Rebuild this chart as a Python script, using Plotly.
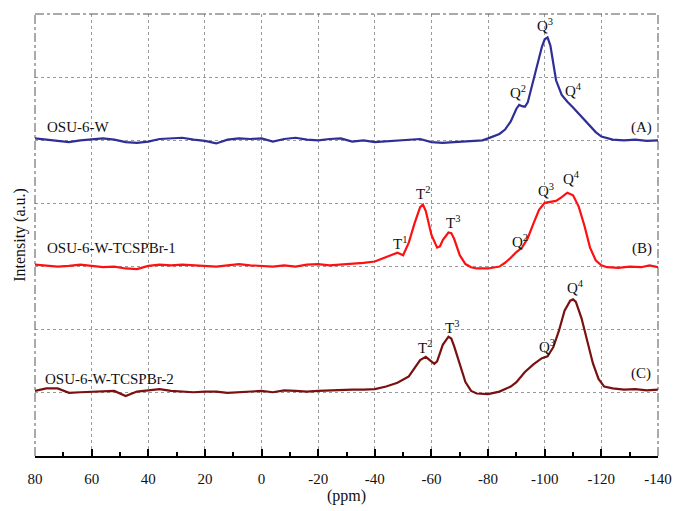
import plotly.graph_objects as go

# ---------------- data ----------------
flat_a_x = list(range(80, -77, -4))
flat_a_y = [0.03, 0.01, 0.0, -0.03, 0.0, 0.02, 0.03, 0.01, -0.03, -0.04,
            -0.02, 0.02, 0.03, 0.04, 0.01, -0.01, -0.05, 0.01, 0.03, 0.02,
            0.03, -0.02, 0.02, 0.04, 0.01, 0.0, 0.02, 0.03, -0.02, 0.0,
            -0.03, -0.02, 0.0, 0.01, 0.02, -0.03, -0.04, -0.03, -0.02, -0.01]
peak_a_x = [-78, -80, -82, -84, -86, -88, -90, -91, -92, -93, -94, -96, -98, -99, -100, -101,
            -102, -103, -104, -106, -108, -110, -112, -114, -116, -118, -120, -122, -124, -128,
            -132, -136, -140]
peak_a_y = [0.0, 0.03, 0.06, 0.1, 0.17, 0.3, 0.5, 0.56, 0.54, 0.53, 0.6, 0.95, 1.3, 1.48, 1.6, 1.63,
            1.5, 1.22, 0.95, 0.72, 0.61, 0.52, 0.42, 0.32, 0.22, 0.13, 0.06, 0.03, 0.01, 0.0,
            0.01, -0.01, 0.0]

flat_b_x = list(range(80, -33, -4))
flat_b_y = [0.03, 0.02, 0.0, 0.01, 0.03, 0.01, -0.01, 0.0, -0.03, -0.04,
            0.01, 0.03, 0.02, 0.03, 0.02, 0.01, 0.0, 0.02, 0.04, 0.02,
            0.01, 0.0, 0.02, 0.0, 0.03, 0.04, 0.02, 0.03, 0.05]
peak_b_x = [-36, -40, -43, -46, -48, -50, -52, -54, -56, -57, -58, -60, -62, -63, -64, -66,
            -67, -68, -70, -72, -74, -76, -80, -84, -86, -88, -90, -92, -94, -96, -98, -100,
            -102, -104, -106, -108, -110, -112, -114, -116, -118, -120, -122, -126, -130,
            -134, -137, -140]
peak_b_y = [0.06, 0.08, 0.13, 0.18, 0.22, 0.18, 0.38, 0.68, 0.94, 0.98, 0.88, 0.5, 0.3, 0.32,
            0.42, 0.54, 0.53, 0.44, 0.18, 0.04, -0.01, -0.03, -0.03, 0.0, 0.06, 0.14, 0.23,
            0.3, 0.45, 0.68, 0.9, 1.01, 1.02, 1.04, 1.1, 1.17, 1.13, 0.95, 0.65, 0.3, 0.1,
            0.02, -0.01, -0.02, 0.0, -0.01, 0.02, -0.01]

flat_c_x = list(range(80, -33, -4))
flat_c_y = [0.03, 0.07, 0.07, 0.0, 0.01, 0.02, 0.03, 0.03, -0.05, 0.02,
            0.04, 0.06, 0.03, 0.02, 0.01, 0.02, 0.02, 0.0, 0.01, 0.02,
            0.03, 0.01, 0.04, 0.03, 0.02, 0.03, 0.04, 0.04, 0.05]
peak_c_x = [-36, -40, -44, -48, -52, -54, -56, -58, -60, -61, -62, -64, -66, -67, -68, -70,
            -72, -74, -76, -80, -84, -88, -90, -93, -96, -99, -101, -103, -105, -107, -109,
            -110, -111, -113, -115, -117, -119, -121, -124, -128, -132, -136, -140]
peak_c_y = [0.05, 0.06, 0.1, 0.16, 0.26, 0.38, 0.52, 0.57, 0.5, 0.46, 0.5, 0.76, 0.89, 0.86,
            0.74, 0.45, 0.17, 0.03, -0.01, -0.02, 0.02, 0.1, 0.17, 0.33, 0.45, 0.55, 0.58,
            0.72, 0.98, 1.3, 1.46, 1.48, 1.44, 1.18, 0.8, 0.47, 0.22, 0.1, 0.07, 0.05, 0.06,
            0.04, 0.05]

offsets = [5, 3, 1]
names = ["OSU-6-W", "OSU-6-W-TCSPBr-1", "OSU-6-W-TCSPBr-2"]
tags = ["(A)", "(B)", "(C)"]
colors = ["#2E2E96", "#FF1010", "#7A1010"]

x_ticks = [80, 60, 40, 20, 0, -20, -40, -60, -80, -100, -120, -140]

# peak labels: (text, ppm, y)
peak_labels = [
    ("Q<sup>3</sup>", -100.1, 6.83), ("Q<sup>2</sup>", -90.6, 5.76), ("Q<sup>4</sup>", -110.2, 5.79),
    ("T<sup>1</sup>", -48.9, 3.37), ("T<sup>2</sup>", -57.0, 4.17), ("T<sup>3</sup>", -67.6, 3.70),
    ("Q<sup>2</sup>", -91.3, 3.40), ("Q<sup>3</sup>", -100.4, 4.21), ("Q<sup>4</sup>", -109.6, 4.40),
    ("T<sup>2</sup>", -57.7, 1.73), ("T<sup>3</sup>", -67.2, 2.05),
    ("Q<sup>3</sup>", -100.8, 1.75), ("Q<sup>4</sup>", -110.7, 2.67),
]
name_pos = [(76.5, 5.21), (76.5, 3.29), (77.2, 1.22)]
tag_pos = [(-134.3, 5.21), (-134.3, 3.29), (-134.0, 1.30)]

# ---------------- figure ----------------
fig = go.Figure()
series = [(flat_a_x + peak_a_x, flat_a_y + peak_a_y),
          (flat_b_x + peak_b_x, flat_b_y + peak_b_y),
          (flat_c_x + peak_c_x, flat_c_y + peak_c_y)]
for (xs, ys), off, col, nm in zip(series, offsets, colors, names):
    fig.add_trace(go.Scatter(x=xs, y=[v + off for v in ys], mode="lines", name=nm,
                             line=dict(color=col, width=2.2, shape="linear"),
                             showlegend=False))

serif = "Liberation Serif, Times New Roman, serif"
ann = []
for txt, px, py in peak_labels:
    ann.append(dict(x=px, y=py, text=txt, showarrow=False, xref="x", yref="y",
                    font=dict(family=serif, size=15, color="#111")))
for (px, py), nm in zip(name_pos, names):
    ann.append(dict(x=px, y=py, text=nm, showarrow=False, xanchor="left", xref="x", yref="y",
                    font=dict(family=serif, size=15, color="#111")))
for (px, py), tg in zip(tag_pos, tags):
    ann.append(dict(x=px, y=py, text=tg, showarrow=False, xref="x", yref="y",
                    font=dict(family=serif, size=15, color="#111")))

border = dict(color="#555", width=1, dash="dashdot")
shapes = [
    dict(type="line", xref="paper", yref="paper", x0=0, x1=1, y0=1, y1=1, line=border),
    dict(type="line", xref="paper", yref="paper", x0=0, x1=0, y0=0, y1=1, line=border),
    dict(type="line", xref="paper", yref="paper", x0=1, x1=1, y0=0, y1=1, line=border),
]

fig.update_layout(
    width=673, height=511,
    margin=dict(l=35, r=15, t=14, b=55),
    paper_bgcolor="white", plot_bgcolor="white",
    font=dict(family=serif, size=15, color="#111"),
    annotations=ann, shapes=shapes,
    xaxis=dict(range=[80, -140], tickvals=x_ticks, ticktext=[str(t) for t in x_ticks],
               showgrid=True, gridcolor="#9a9a9a", griddash="dot", gridwidth=1,
               ticks="inside", ticklen=7, tickwidth=1.5, tickcolor="black",
               minor=dict(dtick=10, ticks="inside", ticklen=4, tickwidth=1.5, tickcolor="black", showgrid=False),
               showline=True, linecolor="black", linewidth=2, zeroline=False,
               automargin=False, ticklabelstandoff=8,
               title=dict(text="(ppm)", font=dict(family=serif, size=16), standoff=4),
               tickfont=dict(family=serif, size=15)),
    yaxis=dict(range=[0, 7], dtick=1, showticklabels=False, ticks="",
               showgrid=True, gridcolor="#9a9a9a", griddash="dot", gridwidth=1,
               zeroline=False, showline=False, automargin=False,
               title=dict(text="Intensity (a.u.)", font=dict(family=serif, size=16), standoff=4)),
)

fig.write_html("out.html")
